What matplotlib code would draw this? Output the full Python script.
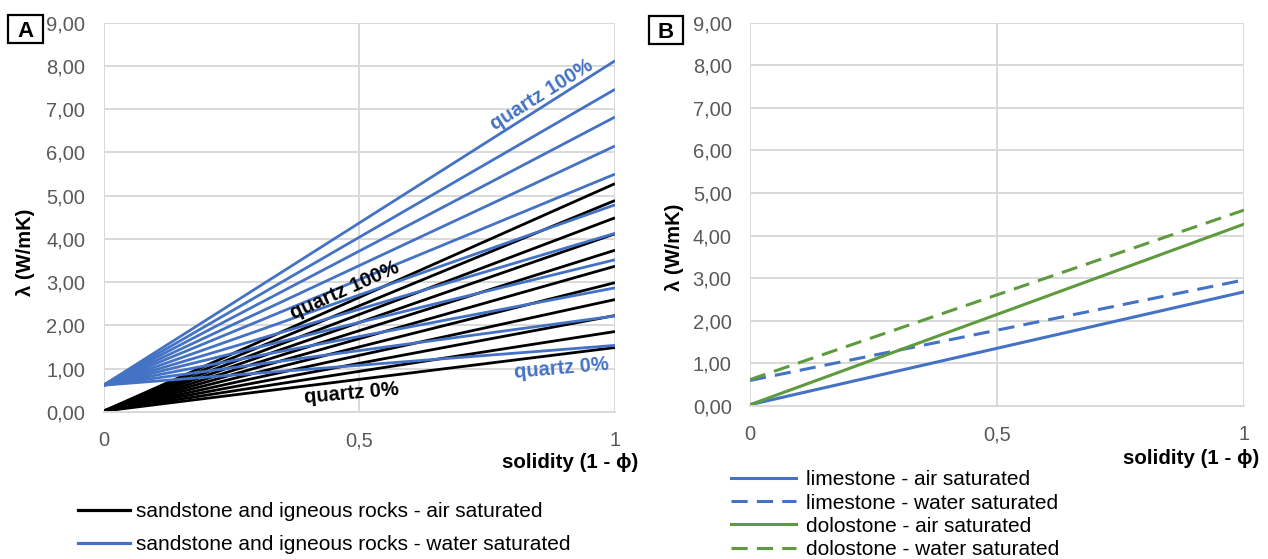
import matplotlib
matplotlib.use("Agg")
import matplotlib.pyplot as plt
from matplotlib.lines import Line2D
from matplotlib.patches import Rectangle
from matplotlib.ticker import FuncFormatter

plt.rcParams['font.family'] = ['Liberation Sans', 'DejaVu Sans']

# solidity axis (1 - porosity)
solidity = [0, 1]

# panel A: quartz 100% ... 0%, end values at solidity = 1
sand_air_start = 0.02
sand_air_end = [5.28, 4.89, 4.49, 4.12, 3.74, 3.37, 2.99, 2.60, 2.23, 1.86, 1.49]
sand_water_start = 0.62
sand_water_end = [8.12, 7.46, 6.82, 6.15, 5.50, 4.79, 4.13, 3.52, 2.87, 2.22, 1.54]

# panel B
carb_names = ["limestone - air saturated", "limestone - water saturated",
              "dolostone - air saturated", "dolostone - water saturated"]
carb_start = [0.03, 0.60, 0.03, 0.62]
carb_end = [2.68, 2.96, 4.27, 4.60]

yticks = [0, 1, 2, 3, 4, 5, 6, 7, 8, 9]
xticks = [0, 0.5, 1]

BLUE = "#4472C4"
GREEN = "#5E9B3E"
GRID = "#D9D9D9"
TICK = "#595959"
W, H = 1268, 559

fig = plt.figure(figsize=(W / 100, H / 100), dpi=100)
axA = fig.add_axes([103.5 / W, 1 - 412 / H, 511.5 / W, 389.3 / H])
axB = fig.add_axes([750 / W, 1 - 406 / H, 494 / W, 383.3 / H])


def comma_y(v, pos):
    return f"{v:.2f}".replace(".", ",")


def comma_x(v, pos):
    if v == int(v):
        return str(int(v))
    return f"{v:g}".replace(".", ",")


def style_axis(ax):
    ax.set_xlim(0, 1)
    ax.set_ylim(0, 9)
    ax.set_yticks(yticks)
    ax.set_xticks(xticks)
    ax.yaxis.set_major_formatter(FuncFormatter(comma_y))
    ax.xaxis.set_major_formatter(FuncFormatter(comma_x))
    ax.grid(True, color=GRID, linewidth=1.4)
    ax.set_axisbelow(True)
    for s in ax.spines.values():
        s.set_visible(False)
    ax.spines['bottom'].set_visible(True)
    ax.spines['bottom'].set_color(GRID)
    ax.spines['bottom'].set_linewidth(1.4)
    ax.tick_params(length=0, labelsize=14.5, labelcolor=TICK)
    ax.tick_params(axis='x', pad=13.7)
    ax.tick_params(axis='y', pad=13.2)
    ax.set_ylabel("λ (W/mK)", fontsize=14.5, fontweight='bold', va='center')
    ax.set_xlabel("solidity (1 - ϕ)", fontsize=14.8, fontweight='bold', ha='right', va='center')


# ---- panel A
style_axis(axA)
for e in sand_air_end:
    axA.plot(solidity, [sand_air_start, e], color="black", lw=2.0, solid_capstyle='butt')
for e in sand_water_end:
    axA.plot(solidity, [sand_water_start, e], color=BLUE, lw=2.0, solid_capstyle='butt')

axA.text(0.857, 7.33, "quartz 100%", color=BLUE, fontsize=14.5, fontweight='bold',
         rotation=32, ha='center', va='center')
axA.text(0.472, 2.80, "quartz 100%", color="black", fontsize=14.5, fontweight='bold',
         rotation=24, ha='center', va='center')
axA.text(0.896, 1.00, "quartz 0%", color=BLUE, fontsize=14.5, fontweight='bold',
         rotation=5, ha='center', va='center')
axA.text(0.484, 0.42, "quartz 0%", color="black", fontsize=14.5, fontweight='bold',
         rotation=5, ha='center', va='center')

axA.yaxis.set_label_coords(-0.152, 0.41)
axA.xaxis.set_label_coords(1.045, -0.131)

legA = [Line2D([], [], color="black", lw=2.3),
        Line2D([], [], color=BLUE, lw=2.3)]
axA.legend(legA, ["sandstone and igneous rocks - air saturated",
                  "sandstone and igneous rocks - water saturated"],
           loc='center left', bbox_to_anchor=(78 / W, 0.0555), bbox_transform=fig.transFigure,
           frameon=False, fontsize=15, handlelength=2.5, handletextpad=0.29,
           labelspacing=0.66, borderpad=0, borderaxespad=0)

# ---- panel B
style_axis(axB)
styles = [(BLUE, '-'), (BLUE, '--'), (GREEN, '-'), (GREEN, '--')]
handles = []
for (c, ls), s0, e, name in zip(styles, carb_start, carb_end, carb_names):
    if ls == '--':
        ln, = axB.plot(solidity, [s0, e], color=c, lw=2.2, ls='--', dashes=(5.3, 3))
    else:
        ln, = axB.plot(solidity, [s0, e], color=c, lw=2.2)
    handles.append(ln)

axB.yaxis.set_label_coords(-0.152, 0.415)
axB.xaxis.set_label_coords(1.030, -0.136)

axB.legend(handles, carb_names, loc='center left', bbox_to_anchor=(731 / W, 0.0793),
           bbox_transform=fig.transFigure, frameon=False, fontsize=15,
           handlelength=3.1, handletextpad=0.48, labelspacing=0.2,
           borderpad=0, borderaxespad=0)

for x0, x1, y0, y1, letter in [(8, 43, 15, 43, "A"), (649, 683, 16, 44, "B")]:
    fig.patches.append(Rectangle((x0 / W, 1 - y1 / H), (x1 - x0) / W, (y1 - y0) / H,
                                 transform=fig.transFigure, facecolor='white',
                                 edgecolor='black', lw=1.6))
    fig.text((x0 + x1) / 2 / W, 1 - (y0 + y1) / 2 / H, letter, fontsize=16,
             fontweight='bold', ha='center', va='center_baseline')

fig.savefig("out.png", dpi=100)
